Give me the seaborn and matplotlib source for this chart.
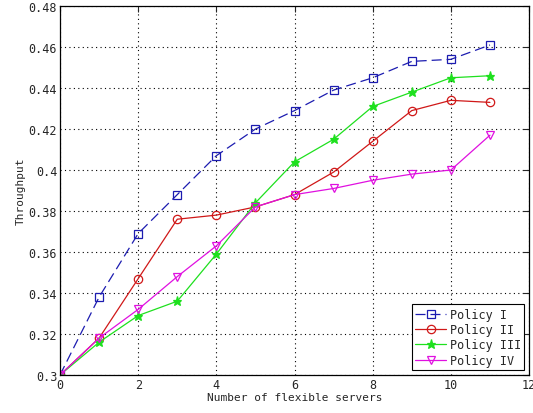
import numpy as np
import pandas as pd
import matplotlib
matplotlib.use("Agg")
import matplotlib.pyplot as plt
import seaborn as sns
from matplotlib.ticker import FuncFormatter

# data
servers = [0, 1, 2, 3, 4, 5, 6, 7, 8, 9, 10, 11]
policy_1 = [0.300, 0.338, 0.369, 0.388, 0.407, 0.420, 0.429, 0.439, 0.445, 0.453, 0.454, 0.461]
policy_2 = [0.300, 0.318, 0.347, 0.376, 0.378, 0.382, 0.388, 0.399, 0.414, 0.429, 0.434, 0.433]
policy_3 = [0.300, 0.316, 0.329, 0.336, 0.359, 0.384, 0.404, 0.415, 0.431, 0.438, 0.445, 0.446]
policy_4 = [0.300, 0.318, 0.332, 0.348, 0.363, 0.382, 0.388, 0.391, 0.395, 0.398, 0.400, 0.417]
policy_names = ["Policy I", "Policy II", "Policy III", "Policy IV"]

df = pd.DataFrame({"servers": servers, "Policy I": policy_1, "Policy II": policy_2,
                   "Policy III": policy_3, "Policy IV": policy_4})
df = df.melt(id_vars="servers", var_name="policy", value_name="throughput")

sns.set_style("white")
plt.rcParams["font.family"] = ["DejaVu Sans Mono"]

colors = {"Policy I": "#1c1cb0", "Policy II": "#d01818", "Policy III": "#1ee01e", "Policy IV": "#e010e0"}
markers = {"Policy I": "s", "Policy II": "o", "Policy III": "*", "Policy IV": "v"}
styles = {"Policy I": (0, (8, 4)), "Policy II": "-", "Policy III": "-", "Policy IV": "-"}

fig = plt.figure(figsize=(5.33, 4.14), dpi=100)
ax = fig.add_axes([0.1126, 0.0918, 0.88, 0.8912])

for name in policy_names:
    sub = df[df["policy"] == name]
    filled = name == "Policy III"
    sns.lineplot(data=sub, x="servers", y="throughput", ax=ax, color=colors[name],
                 marker=markers[name], linestyle=styles[name], linewidth=0.9,
                 markersize=6.5 if filled else 6, markeredgewidth=0.9,
                 markerfacecolor=colors[name] if filled else "none",
                 markeredgecolor=colors[name], label=name, legend=False)

ax.set_xlim(0, 12)
ax.set_ylim(0.30, 0.48)
ax.set_xticks(np.arange(0, 13, 2))
ax.set_yticks(np.arange(0.30, 0.481, 0.02))
ax.yaxis.set_major_formatter(FuncFormatter(lambda v, p: ("%.2f" % v).rstrip("0")))
ax.grid(True, color="black", linestyle=(0, (1, 3)), linewidth=0.8)
ax.tick_params(direction="in", top=True, right=True, labelsize=8.5, length=4, width=0.8, pad=2)
for s in ax.spines.values():
    s.set_color("black")
    s.set_linewidth(0.9)

ax.set_xlabel("Number of flexible servers", fontsize=8, labelpad=1)
ax.set_ylabel("Throughput", fontsize=8, labelpad=2)

leg = ax.legend(handles=ax.lines[:4], labels=policy_names, loc="lower right",
                fontsize=8.5, frameon=True, fancybox=False, framealpha=1,
                edgecolor="black", borderaxespad=0.4, handlelength=2.6,
                labelspacing=0.2, borderpad=0.3, handletextpad=0.3)
leg.get_frame().set_linewidth(0.8)

fig.savefig("out.png", dpi=100)
